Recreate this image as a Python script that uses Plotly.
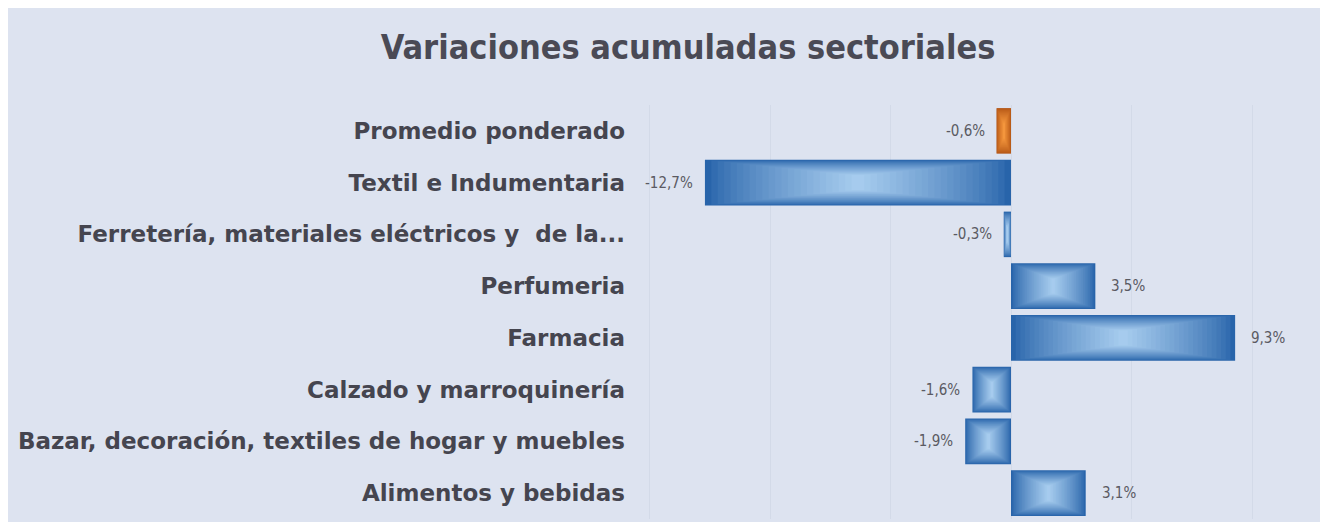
import plotly.graph_objects as go

categories = [
    "Promedio ponderado",
    "Textil e Indumentaria",
    "Ferretería, materiales eléctricos y  de la...",
    "Perfumeria",
    "Farmacia",
    "Calzado y marroquinería",
    "Bazar, decoración, textiles de hogar y muebles",
    "Alimentos y bebidas",
]
values = [-0.6, -12.7, -0.3, 3.5, 9.3, -1.6, -1.9, 3.1]
is_average = [True, False, False, False, False, False, False, False]
title_text = "Variaciones acumuladas sectoriales"

# page body adds an 8px offset; figure sized to fit the window
W, H = 1320, 514
ML, MR, MT, MB = 632, 8, 97, 3
ZERO_PX = 1003
PX_PER_UNIT = 24.1

blue_dark, blue_light = (40, 100, 170), (170, 207, 240)
orange_dark, orange_light = (180, 86, 22), (246, 152, 62)


def mix(c1, c2, t):
    return "rgb(%d,%d,%d)" % tuple(round(a + (b - a) * t) for a, b in zip(c1, c2))


fig = go.Figure()
n_layers = 24
bar_w = 0.88
for k in range(n_layers):
    f = k / n_layers
    xs = [v * (1 - f) for v in values]
    bases = [v * f / 2 for v in values]
    t = f ** 0.8
    cols = [
        mix(orange_dark, orange_light, t) if a else mix(blue_dark, blue_light, t)
        for a in is_average
    ]
    fig.add_trace(
        go.Bar(
            y=categories,
            x=xs,
            base=bases,
            orientation="h",
            width=bar_w * (1 - f * 0.7),
            marker=dict(color=cols, line=dict(width=0)),
            hoverinfo="skip",
            showlegend=False,
        )
    )

for cat, v in zip(categories, values):
    label = ("%.1f%%" % v).replace(".", ",")
    fig.add_annotation(
        x=v, y=cat, text=label, showarrow=False,
        xanchor="right" if v < 0 else "left",
        xshift=-10 if v < 0 else 14,
        font=dict(family="DejaVu Sans Condensed, Liberation Sans Narrow, sans-serif",
                  size=15, color="#5a5a62"),
    )

fig.update_layout(
    width=W, height=H,
    margin=dict(l=ML, r=MR, t=MT, b=MB),
    paper_bgcolor="#dde3f0",
    plot_bgcolor="rgba(0,0,0,0)",
    barmode="overlay",
    title=dict(
        text=title_text, x=680 / W, xanchor="center", xref="container",
        y=1 - 39 / H, yanchor="middle", yref="container",
        font=dict(family="DejaVu Sans Condensed, Liberation Sans Narrow, sans-serif", size=34,
                  color="#4a4a55", weight="bold"),
    ),
    xaxis=dict(
        range=[-(ZERO_PX - ML) / PX_PER_UNIT, (W - MR - ZERO_PX) / PX_PER_UNIT],
        showticklabels=False, zeroline=False,
        showgrid=True, gridcolor="#d3dae8", gridwidth=1, dtick=5, tick0=0,
        fixedrange=True,
    ),
    yaxis=dict(
        categoryorder="array", categoryarray=categories, autorange="reversed",
        tickfont=dict(family="DejaVu Sans, sans-serif", size=23,
                      color="#45454f", weight="bold"),
        showgrid=False, ticks="", ticklabelstandoff=14, automargin=False,
    ),
)

fig.write_html("out.html")
